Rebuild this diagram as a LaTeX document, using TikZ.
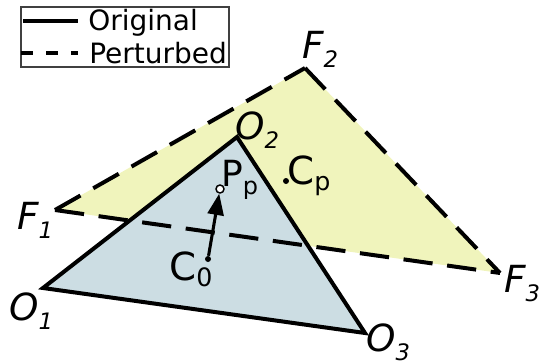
\documentclass[tikz,border=0pt]{standalone}
\usepackage{fontspec}
\setmainfont{DejaVu Sans}
\usetikzlibrary{arrows.meta}
\definecolor{yel}{RGB}{240,244,188}
\definecolor{blu}{RGB}{204,221,227}
\newcommand{\vlab}[2]{\fontsize{28}{28}\selectfont\itshape #1\raisebox{-7pt}{\fontsize{17}{17}\selectfont #2}}
\newcommand{\plab}[2]{\fontsize{27}{27}\selectfont #1\raisebox{-6pt}{\fontsize{18}{18}\selectfont #2}}
\newcommand{\clab}[2]{\fontsize{29}{29}\selectfont #1\raisebox{-5pt}{\fontsize{19}{19}\selectfont #2}}
\begin{document}
\begin{tikzpicture}[x=0.75pt,y=-0.75pt,
  edge/.style={line width=3pt, line join=miter},
  dashedge/.style={line width=3pt, dash pattern=on 22pt off 11pt},
  lab/.style={font=\fontsize{21}{21}\selectfont, inner sep=0, anchor=base west},
  dot/.style={circle, fill=black, inner sep=0, minimum size=4.5pt}]
\useasboundingbox (0,0) rectangle (546,364);
\coordinate (F1) at (55,210);
\coordinate (F2) at (305,68);
\coordinate (F3) at (500,273);
\coordinate (O1) at (43,288);
\coordinate (O2) at (237,137);
\coordinate (O3) at (365,333);
\fill[yel] (F1)--(F2)--(F3)--cycle;
\fill[blu] (O1)--(O2)--(O3)--cycle;
\draw[edge] (O1)--(O2)--(O3)--cycle;
\draw[dashedge] (F1)--(F2);
\draw[dashedge] (F2)--(F3);
\draw[dashedge] (F1)--(F3);
\node[dot] (C0) at (208,259) {};
\node[dot] (Cp) at (286,181) {};
\node[circle, draw, fill=white, line width=1.1pt, inner sep=0, minimum size=6pt] (Pp) at (220,189) {};
\draw[line width=2.3pt, -{Triangle[length=16pt, width=12pt]}] (C0) -- (Pp);
\node[lab] (lF1) at (17,229) {\vlab{F}{1}};
\node[lab] (lF2) at (302,58) {\vlab{F}{2}};
\node[lab] (lF3) at (504,292) {\vlab{F}{3}};
\node[lab] (lO1) at (9,320) {\vlab{O}{1}};
\node[lab] (lO2) at (235,139) {\vlab{O}{2}};
\node[lab] (lO3) at (366,351) {\vlab{O}{3}};
\node[lab] (lPp) at (221,186) {\plab{P}{p}};
\node[lab] (lCp) at (287,184) {\clab{C}{p}};
\node[lab] (lC0) at (169,280) {\clab{C}{0}};
% legend
\draw[line width=1.1pt, black!75] (21,7) rectangle (229,67);
\coordinate (ls1) at (23,21); \coordinate (ls2) at (78,21);
\coordinate (ld1) at (21,53); \coordinate (ld2) at (78,53);
\draw[line width=3pt] (ls1) -- (ls2);
\draw[line width=3pt, dash pattern=on 9pt off 9.75pt] (ld1) -- (ld2);
\node[lab] (tO) at (88,31) {Original};
\node[lab] (tP) at (89,63) {Perturbed};
\end{tikzpicture}
\end{document}
